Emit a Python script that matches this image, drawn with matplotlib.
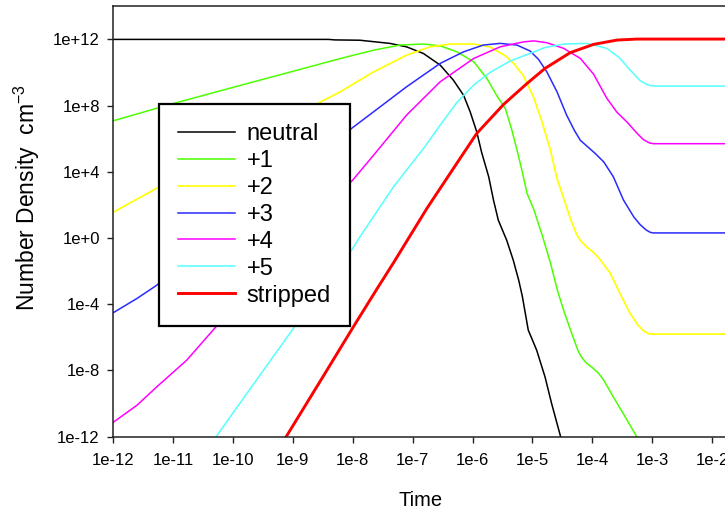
import numpy as np
import matplotlib
matplotlib.use('Agg')
import matplotlib.pyplot as plt
from matplotlib.ticker import FixedLocator, FixedFormatter, NullLocator

plt.rcParams['font.family'] = ['Liberation Sans', 'DejaVu Sans']
plt.rcParams['mathtext.fontset'] = 'custom'
plt.rcParams['mathtext.rm'] = 'Liberation Sans'
plt.rcParams['mathtext.default'] = 'rm'

# curves, as log10(time) and log10(density)
neutral_t = [-12, -8.4, -8.3, -7.88, -7.38, -7.1, -6.82, -6.54, -6.32, -6.15, -6.04, -5.93, -5.85,
             -5.73, -5.65, -5.57, -5.43, -5.32, -5.23, -5.17, -5.07, -4.93, -4.79, -4.68, -4.59, -4.53]
neutral_n = [12, 12, 11.97, 11.95, 11.76, 11.55, 11.15, 10.45, 9.54, 8.63, 7.63, 6.42, 5.2,
             3.7, 2.29, 1.08, -0.13, -1.34, -2.54, -3.5, -5.56, -6.77, -8.39, -10.0, -11.2, -12.0]

p1_t = [-12, -11, -10, -9, -8.2, -7.65, -7.21, -6.82, -6.54, -6.26, -5.98, -5.76, -5.6, -5.45,
        -5.35, -5.26, -5.17, -5.09, -4.98, -4.84, -4.7, -4.58, -4.48, -4.38, -4.31, -4.24,
        -4.18, -4.1, -4.01, -3.9, -3.81, -3.65, -3.42, -3.26]
p1_n = [7.08, 8.12, 9.1, 10.07, 10.85, 11.35, 11.66, 11.72, 11.61, 11.25, 10.65, 9.64, 8.63, 7.8,
        6.6, 5.35, 4.0, 2.69, 1.75, 0.2, -1.5, -3.2, -4.36, -5.4, -6.1, -6.8,
        -7.2, -7.55, -7.8, -8.15, -8.59, -9.6, -11.0, -12.0]

p2_t = [-12, -11, -10, -9, -8.55, -8.21, -7.65, -7.1, -6.71, -6.37, -5.98, -5.71, -5.45, -5.3,
        -5.15, -4.98, -4.84, -4.7, -4.59, -4.48, -4.35, -4.26, -4.2, -4.09, -3.97, -3.87, -3.7,
        -3.54, -3.37, -3.24, -3.15, -3.06, -2.98, -1.7]
p2_n = [1.55, 3.55, 5.5, 7.35, 8.2, 8.83, 10.04, 11.05, 11.55, 11.72, 11.72, 11.55, 11.0, 10.5,
        9.8, 8.5, 7.0, 5.31, 3.6, 2.4, 1.0, 0.2, -0.15, -0.55, -0.9, -1.3, -2.14,
        -3.35, -4.56, -5.25, -5.6, -5.78, -5.8, -5.8]

p3_t = [-12, -11.6, -11.27, -11, -10, -9, -8.02, -7.65, -7.1, -6.54, -6.15, -5.82, -5.54, -5.26,
        -5.04, -4.9, -4.76, -4.59, -4.43, -4.3, -4.2, -4.09, -3.95, -3.81, -3.65, -3.48, -3.31,
        -3.2, -3.1, -3.03, -2.98, -1.7]
p3_n = [-4.52, -3.65, -2.85, -2.0, 0.95, 3.85, 6.62, 7.63, 9.14, 10.55, 11.25, 11.66, 11.76, 11.66,
        11.3, 10.8, 10.04, 8.83, 7.43, 6.5, 5.9, 5.55, 5.1, 4.6, 3.7, 2.29, 1.28,
        0.8, 0.48, 0.34, 0.31, 0.31]

p4_t = [-12, -11.6, -11.27, -10.77, -10.33, -10, -9, -8, -7.65, -7.1, -6.54, -5.98, -5.54, -5.15,
        -4.98, -4.76, -4.48, -4.2, -3.98, -3.76, -3.59, -3.42, -3.26, -3.15, -3.05, -2.98, -1.7]
p4_n = [-11.14, -10.1, -8.99, -7.38, -5.56, -4.2, -0.2, 3.5, 5.01, 7.43, 9.44, 10.85, 11.55, 11.85,
        11.91, 11.8, 11.46, 10.85, 9.9, 8.45, 7.6, 7.0, 6.35, 5.95, 5.75, 5.7, 5.7]

p5_t = [-10.28, -9.66, -8.99, -8.5, -8, -7.88, -7.32, -6.8, -6.54, -6.26, -5.98, -5.71, -5.37,
        -5.04, -4.8, -4.48, -4.09, -3.76, -3.55, -3.37, -3.2, -3.09, -3.0, -2.93, -1.7]
p5_n = [-12, -8.85, -5.46, -3.0, -0.63, 0.07, 3.09, 5.5, 6.82, 8.2, 9.24, 10.0, 10.7,
        11.15, 11.5, 11.72, 11.76, 11.46, 10.9, 10.15, 9.5, 9.27, 9.2, 9.18, 9.18]

strip_t = [-9.11, -8.5, -7.99, -7.6, -7.32, -6.76, -6.21, -5.93, -5.48, -5.09, -4.79, -4.37,
           -3.98, -3.59, -3.26, -1.7]
strip_n = [-12, -8.4, -5.37, -3.1, -1.5, 1.8, 4.8, 6.32, 8.08, 9.34, 10.25, 11.2,
           11.7, 11.96, 12.02, 12.02]

labels = ['neutral', '+1', '+2', '+3', '+4', '+5', 'stripped']
colors = ['black', '#4cff00', '#ffff00', '#2a2aff', '#ff00ff', '#55ffff', '#ff0000']
widths = [1.1, 1.1, 1.2, 1.1, 1.1, 1.1, 2.1]

xticks = [-12, -11, -10, -9, -8, -7, -6, -5, -4, -3, -2]
xticklabels = ['1e-12', '1e-11', '1e-10', '1e-9', '1e-8', '1e-7', '1e-6', '1e-5', '1e-4', '1e-3', '1e-2']
yticks = [-12, -8, -4, 0, 4, 8, 12]
yticklabels = ['1e-12', '1e-8', '1e-4', '1e+0', '1e+4', '1e+8', '1e+12']

fig = plt.figure(figsize=(7.25, 5.09), dpi=100)
ax = fig.add_axes([113 / 725, 72.3 / 509, 616 / 725, 430.4 / 509])

series = [(neutral_t, neutral_n), (p1_t, p1_n), (p2_t, p2_n), (p3_t, p3_n),
          (p4_t, p4_n), (p5_t, p5_n), (strip_t, strip_n)]
for (t, n), lab, c, w in zip(series, labels, colors, widths):
    ax.plot(10.0 ** np.array(t), 10.0 ** np.array(n), color=c, lw=w, label=lab)

ax.set_xscale('log')
ax.set_yscale('log')
ax.set_xlim(1e-12, 10 ** -1.72)
ax.set_ylim(1e-12, 1e14)

ax.xaxis.set_major_locator(FixedLocator([10.0 ** v for v in xticks]))
ax.xaxis.set_major_formatter(FixedFormatter(xticklabels))
ax.yaxis.set_major_locator(FixedLocator([10.0 ** v for v in yticks]))
ax.yaxis.set_major_formatter(FixedFormatter(yticklabels))
ax.xaxis.set_minor_locator(NullLocator())
ax.yaxis.set_minor_locator(NullLocator())
ax.tick_params(direction='out', length=4.5, width=1.0, labelsize=12, color='#222222')
ax.tick_params(axis='x', pad=7)
ax.tick_params(axis='y', pad=5)
for s in ax.spines.values():
    s.set_linewidth(1.1)
    s.set_color('#222222')

ax.set_xlabel('Time', fontsize=14.5, labelpad=17)
ax.set_ylabel('Number Density  cm$^{-3}$', fontsize=16.5)
ax.yaxis.set_label_coords(-0.116, 0.555)

leg = ax.legend(loc='upper left', bbox_to_anchor=(159.3 / 725, 1 - 104 / 509),
                bbox_transform=fig.transFigure, borderaxespad=0, fontsize=17,
                handlelength=2.4, handletextpad=0.5, borderpad=0.8, labelspacing=0.21,
                fancybox=False, framealpha=1, edgecolor='black')
leg.get_frame().set_linewidth(1.6)

fig.savefig('out.png', dpi=100)
